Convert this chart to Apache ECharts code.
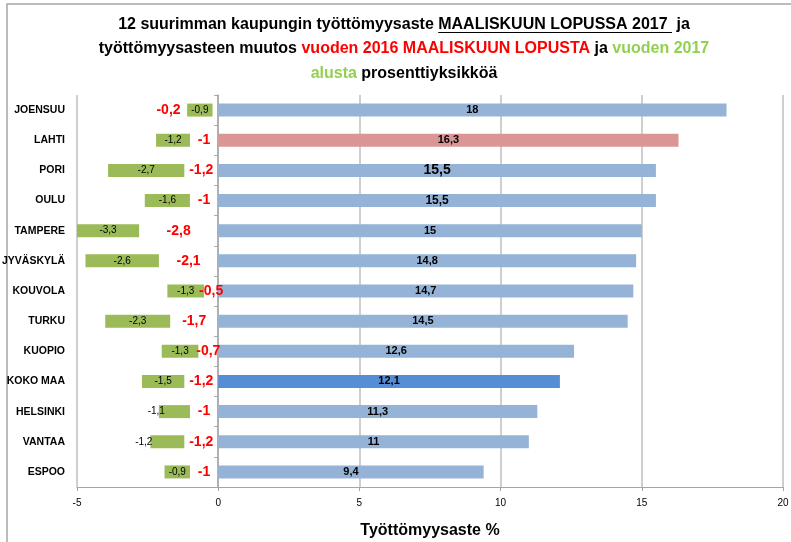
<!DOCTYPE html>
<html>
<head>
<meta charset="utf-8">
<script src="https://cdn.jsdelivr.net/npm/echarts@6/dist/echarts.min.js"></script>
<style>
html,body{margin:0;padding:0;background:#fff;}
#main{width:791px;height:542px;}
</style>
</head>
<body>
<div id="main"></div>
<script>
// Data
const categories = ['JOENSUU','LAHTI','PORI','OULU','TAMPERE','JYVÄSKYLÄ','KOUVOLA','TURKU','KUOPIO','KOKO MAA','HELSINKI','VANTAA','ESPOO'];
const rate2017 = [18, 16.3, 15.5, 15.5, 15, 14.8, 14.7, 14.5, 12.6, 12.1, 11.3, 11, 9.4];
const changeFromMarch2016 = [-0.2, -1, -1.2, -1, -2.8, -2.1, -0.5, -1.7, -0.7, -1.2, -1, -1.2, -1];
const changeFromStart2017 = [-0.9, -1.2, -2.7, -1.6, -3.3, -2.6, -1.3, -2.3, -1.3, -1.5, -1.1, -1.2, -0.9];
const xTicks = [-5, 0, 5, 10, 15, 20];

const FONT = '"Liberation Sans", Arial, sans-serif';
const comma = v => String(v).replace('.', ',');

const blueData = rate2017.map((v, i) => {
  const item = { value: v };
  if (categories[i] === 'LAHTI') item.itemStyle = { color: '#D99694' };
  if (categories[i] === 'KOKO MAA') item.itemStyle = { color: '#558ED5' };
  if (categories[i] === 'PORI') item.label = { fontSize: 14 };
  if (categories[i] === 'OULU') item.label = { fontSize: 12 };
  return item;
});
const baseData = changeFromMarch2016.map((v, i) => {
  const item = { value: v };
  if (categories[i] === 'JOENSUU') item.label = { position: 'left', distance: 32 };
  return item;
});
const greenData = changeFromStart2017.map((v, i) => {
  const item = { value: v };
  if (categories[i] === 'HELSINKI') item.label = { position: 'left', distance: -6 };
  if (categories[i] === 'VANTAA') item.label = { position: 'left', distance: -2 };
  return item;
});

// Title and underline under "MAALISKUUN LOPUSSA 2017"
const TITLE_SIZE = 16;
const TITLE_CX = 404;
const TITLE_TOP = 12;
const t1a = '12 suurimman kaupungin työttömyysaste ';
const t1u = 'MAALISKUUN LOPUSSA 2017 ';
const t1b = ' ja';
const mctx = document.createElement('canvas').getContext('2d');
mctx.font = 'bold ' + TITLE_SIZE + 'px ' + FONT;
const wA = mctx.measureText(t1a).width, wU = mctx.measureText(t1u).width, wB = mctx.measureText(t1b).width;
const lineStart = TITLE_CX - (wA + wU + wB) / 2;
const ux1 = lineStart + wA, ux2 = lineStart + wA + wU;

const richBase = { fontFamily: FONT, fontWeight: 'bold', fontSize: TITLE_SIZE, lineHeight: 24.5 };

const chart = echarts.init(document.getElementById('main'), null, { renderer: 'canvas' });
chart.setOption({
  animation: false,
  backgroundColor: '#fff',
  title: {
    left: TITLE_CX,
    textAlign: 'center',
    top: TITLE_TOP,
    padding: 0,
    text: '{b|' + t1a + '}{b|' + t1u + '}{b|' + t1b + '}\n' +
          '{b|työttömyysasteen muutos }{r|vuoden 2016 MAALISKUUN LOPUSTA}{b| ja }{g|vuoden 2017}\n' +
          '{g|alusta}{b| prosenttiyksikköä}',
    textStyle: Object.assign({}, richBase, {
      color: '#000',
      rich: {
        b: Object.assign({}, richBase, { color: '#000' }),
        r: Object.assign({}, richBase, { color: '#FF0000' }),
        g: Object.assign({}, richBase, { color: '#92D050' })
      }
    })
  },
  graphic: [
    { type: 'rect', shape: { x: 7, y: 4, width: 900, height: 700 }, style: { fill: 'none', stroke: '#A6A6A6', lineWidth: 1.5 }, silent: true },
    { type: 'line', shape: { x1: ux1, y1: TITLE_TOP + 20.5, x2: ux2, y2: TITLE_TOP + 20.5 }, style: { stroke: '#000', lineWidth: 1.2 }, silent: true }
  ],
  grid: { left: 77, right: 8, top: 95, bottom: 55, containLabel: false, outerBoundsMode: 'none' },
  xAxis: {
    type: 'value', min: xTicks[0], max: xTicks[xTicks.length - 1], interval: 5,
    axisLine: { show: true, onZero: false, lineStyle: { color: '#A6A6A6', width: 1 } },
    axisTick: { show: true, length: 4, lineStyle: { color: '#A6A6A6' } },
    axisLabel: { fontFamily: FONT, fontSize: 10, color: '#000', margin: 11 },
    splitLine: { show: true, lineStyle: { color: '#BFBFBF', width: 1.5 } },
    name: 'Työttömyysaste %', nameLocation: 'middle', nameGap: 36,
    nameTextStyle: { fontFamily: FONT, fontWeight: 'bold', fontSize: 16, color: '#000' }
  },
  yAxis: [
    {
      type: 'category', data: categories, inverse: true,
      axisLine: { show: false, onZero: false }, axisTick: { show: false },
      axisLabel: { fontFamily: FONT, fontWeight: 'bold', fontSize: 10.5, color: '#000', margin: 12 }
    },
    {
      type: 'category', data: categories, inverse: true, position: 'left',
      axisLine: { show: true, onZero: true, lineStyle: { color: '#A6A6A6', width: 1.5 } },
      axisTick: { show: true, length: 4, lineStyle: { color: '#A6A6A6' } },
      axisLabel: { show: false }, splitLine: { show: false }
    }
  ],
  series: [
    {
      name: 'base', type: 'bar', stack: 'a', barWidth: 13, data: baseData,
      itemStyle: { color: 'rgba(0,0,0,0)' },
      label: { show: true, position: 'inside', fontFamily: FONT, fontWeight: 'bold', fontSize: 14, color: '#FF0000', formatter: p => comma(p.value) },
      z: 5
    },
    {
      name: 'green', type: 'bar', stack: 'a', barWidth: 13, data: greenData,
      itemStyle: { color: '#9BBB59' },
      label: { show: true, position: 'inside', fontFamily: FONT, fontSize: 10, color: '#000', formatter: p => comma(p.value) }
    },
    {
      name: 'blue', type: 'bar', stack: 'a', barWidth: 13, data: blueData,
      itemStyle: { color: '#95B3D7' },
      label: { show: true, position: 'inside', fontFamily: FONT, fontWeight: 'bold', fontSize: 11, color: '#000', formatter: p => comma(p.value) }
    }
  ]
});
</script>
</body>
</html>
